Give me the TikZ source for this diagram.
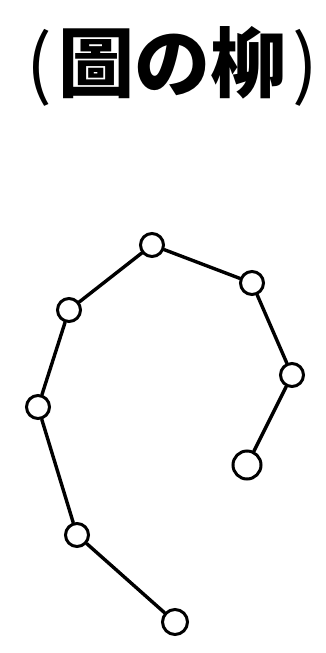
\documentclass[tikz,border=0pt]{standalone}
\usepackage{fontspec}
\newfontfamily\cjk{Noto Sans CJK JP}
\begin{document}
\begin{tikzpicture}[x=1pt,y=-1pt,
  bead/.style={circle,draw=black,line width=3pt,fill=white,inner sep=0pt,minimum size=#1},
  bead/.default=23pt,
  link/.style={line width=3.4pt,line cap=round}]
\useasboundingbox (0,0) rectangle (325,653);
\node[font=\cjk\bfseries\fontsize{76}{76}\selectfont, inner sep=0pt] (title) at (172,66) {{\mdseries(}\hspace{6pt}圖の柳\hspace{6pt}{\mdseries)}};
\node[bead] (a) at (152,245) {};
\node[bead] (b) at (252,283) {};
\node[bead] (c) at (292,375) {};
\node[bead=28pt] (d) at (247,465) {};
\node[bead] (e) at (69,310) {};
\node[bead] (f) at (38,407) {};
\node[bead] (g) at (77,535) {};
\node[bead=25pt] (h) at (175,622) {};
\draw[link] (h) -- (g);
\draw[link] (g) -- (f);
\draw[link] (f) -- (e);
\draw[link] (e) -- (a);
\draw[link] (a) -- (b);
\draw[link] (b) -- (c);
\draw[link] (c) -- (d);
\end{tikzpicture}
\end{document}
